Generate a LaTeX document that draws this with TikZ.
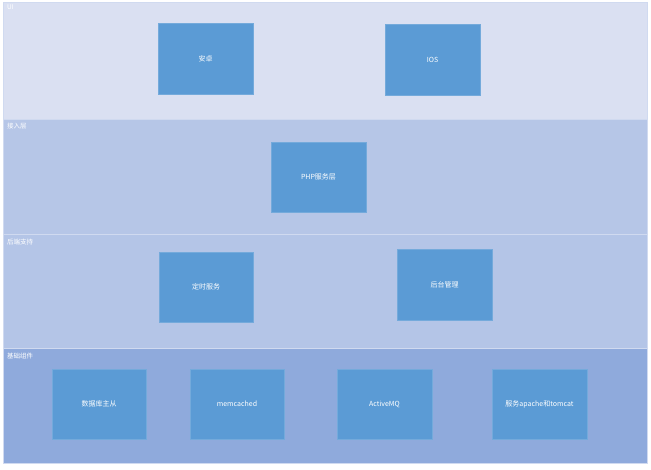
\documentclass[tikz,border=0pt]{standalone}
\usepackage{fontspec}
\setmainfont{Noto Sans CJK SC}
\definecolor{bandA}{HTML}{DAE0F2}
\definecolor{bandB}{HTML}{B6C6E7}
\definecolor{bandC}{HTML}{B4C5E7}
\definecolor{bandD}{HTML}{8FAADC}
\definecolor{boxfill}{HTML}{5B9BD5}
\definecolor{sep}{HTML}{D0DAF0}
\tikzset{
  bandbox/.style={draw=sep, line width=0.8pt},
  compbox/.style={fill=boxfill, draw=boxfill!85!white, line width=0.5pt, text=white, font=\fontsize{7}{8}\selectfont},
  bandlabel/.style={text=white, anchor=north west, inner sep=0pt, font=\fontsize{6.5}{7}\selectfont}
}
\begin{document}
\begin{tikzpicture}[x=1pt,y=-1pt]
\useasboundingbox (0,0) rectangle (651,469);
\fill[white] (0,0) rectangle (651,469);
% bands
\filldraw[bandbox, fill=bandA] (3,2) rectangle (647,119);
\filldraw[bandbox, fill=bandB] (3,119) rectangle (647,234);
\filldraw[bandbox, fill=bandC] (3,234) rectangle (647,348);
\filldraw[bandbox, fill=bandD] (3,348) rectangle (647,463);
\node[bandlabel] (lui) at (7,5) {UI};
\node[bandlabel] (lacc) at (7,123) {接入层};
\node[bandlabel] (lback) at (7,239) {后端支持};
\node[bandlabel] (lbase) at (7,353) {基础组件};
% boxes
\newcommand{\cbox}[6]{\filldraw[compbox] (#2,#3) rectangle (#4,#5);
  \node[compbox, fill=none, draw=none] (#1) at ({(#2+#4)/2},{(#3+#5)/2}) {#6};}
\cbox{android}{158}{23}{253}{94}{安卓}
\cbox{ios}{385}{24}{480}{95}{IOS}
\cbox{php}{271}{142}{366}{212}{PHP服务层}
\cbox{timer}{159}{252}{253}{322}{定时服务}
\cbox{admin}{397}{249}{492}{320}{后台管理}
\cbox{db}{52}{369}{146}{439}{数据库主从}
\cbox{memc}{190}{369}{284}{439}{memcached}
\cbox{amq}{337}{369}{432}{439}{ActiveMQ}
\cbox{srv}{492}{369}{587}{439}{服务apache和tomcat}
\end{tikzpicture}
\end{document}
